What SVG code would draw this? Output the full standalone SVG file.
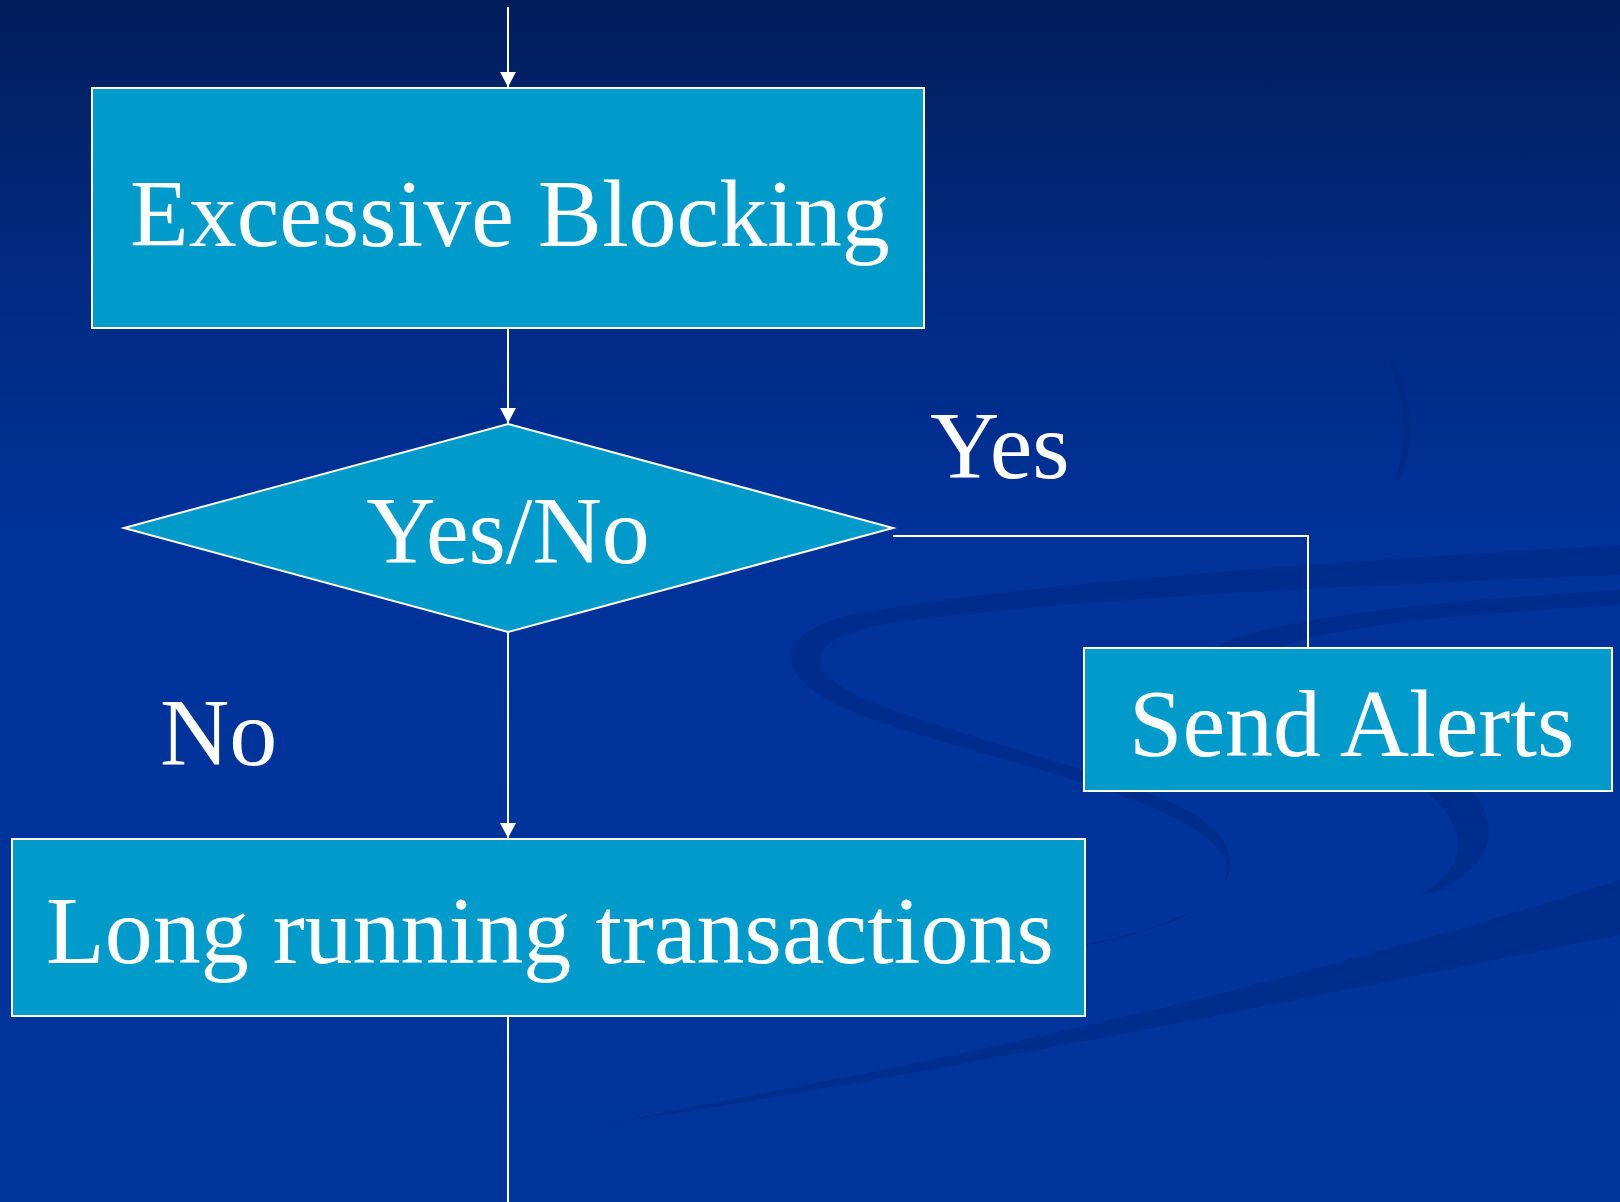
<svg xmlns="http://www.w3.org/2000/svg" width="1620" height="1202" viewBox="0 0 1620 1202">
<defs>
<linearGradient id="bg" x1="0" y1="0" x2="0" y2="1">
<stop offset="0" stop-color="#021d5b"/>
<stop offset="0.22" stop-color="#012a80"/>
<stop offset="0.45" stop-color="#00329a"/>
<stop offset="1" stop-color="#00359c"/>
</linearGradient>
<marker id="arr" markerWidth="16" markerHeight="16" refX="15" refY="8" orient="auto" markerUnits="userSpaceOnUse" viewBox="0 0 16 16">
<path d="M0,0 L15,8 L0,16 Z" fill="#ffffff"/>
</marker>
<style>
.box{fill:#009bcb;stroke:#ffffff;stroke-width:2}
.lbl{font-family:"Liberation Serif","Times New Roman",serif;font-size:96px;fill:#ffffff}
.con{fill:none;stroke:#ffffff;stroke-width:2}
.swoosh{fill:#00287f;opacity:0.5}
</style>
</defs>
<rect x="0" y="0" width="1620" height="1202" fill="url(#bg)"/>
<g id="background-swooshes">
<path class="swoosh" d="M1620,545 C1350,560 1000,585 850,615 C770,635 770,680 860,715 C1000,765 1200,800 1225,860 C1240,905 1160,930 1060,950 L1090,945 C1200,925 1260,880 1215,830 C1170,785 1000,750 880,705 C800,675 800,640 880,625 C1050,600 1350,585 1620,575 Z"/>
<path class="swoosh" d="M1620,590 C1450,600 1300,615 1230,640 C1180,660 1260,700 1380,760 C1470,810 1480,860 1420,895 L1440,890 C1520,850 1500,790 1400,740 C1290,690 1240,660 1300,640 C1380,620 1500,612 1620,605 Z"/>
<path class="swoosh" d="M1620,880 C1400,950 1100,1030 780,1090 L600,1125 C900,1080 1250,1010 1620,935 Z"/>
<path class="swoosh" d="M1388,360 C1405,400 1410,440 1395,480 L1400,480 C1415,440 1412,400 1395,360 Z"/>
</g>
<g id="connectors">
<line class="con" x1="508" y1="7" x2="508" y2="87" marker-end="url(#arr)"/>
<line class="con" x1="508" y1="329" x2="508" y2="423" marker-end="url(#arr)"/>
<line class="con" x1="508" y1="632" x2="508" y2="838" marker-end="url(#arr)"/>
<polyline class="con" points="893,536 1308,536 1308,648"/>
<line class="con" x1="508" y1="1016" x2="508" y2="1202"/>
</g>
<g id="node-excessive-blocking">
<rect class="box" x="92" y="88" width="832" height="240"/>
<text class="lbl" x="130" y="246">Excessive Blocking</text>
</g>
<g id="node-decision">
<polygon class="box" points="508,424 893,528 508,632 124,528"/>
<text class="lbl" x="508" y="563" text-anchor="middle">Yes/No</text>
</g>
<g id="label-yes">
<text class="lbl" x="930" y="478">Yes</text>
</g>
<g id="label-no">
<text class="lbl" x="160" y="765">No</text>
</g>
<g id="node-send-alerts">
<rect class="box" x="1084" y="648" width="528" height="143"/>
<text class="lbl" x="1129" y="756">Send Alerts</text>
</g>
<g id="node-long-running">
<rect class="box" x="12" y="839" width="1073" height="177"/>
<text class="lbl" x="46" y="963">Long running transactions</text>
</g>
</svg>
